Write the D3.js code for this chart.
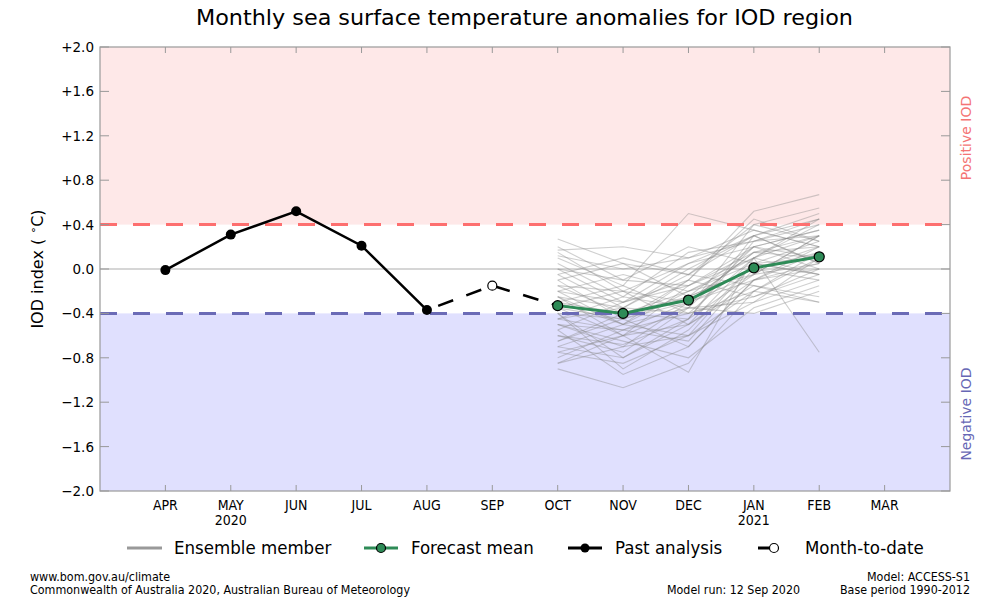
<!DOCTYPE html>
<html>
<head>
<meta charset="utf-8">
<script src="https://cdn.jsdelivr.net/npm/d3@7"></script>
<style>
  body { margin: 0; background: #fff; }
  svg { font-family: "DejaVu Sans", sans-serif; }
  .cond { font-stretch: condensed; }
</style>
</head>
<body>
<svg id="chart" width="1000" height="600"></svg>
<script>
// ---------- DATA ----------
const months = ["APR","MAY","JUN","JUL","AUG","SEP","OCT","NOV","DEC","JAN","FEB","MAR"];
const yearLabels = [{month: "MAY", year: "2020"}, {month: "JAN", year: "2021"}];
const yTicks = [-2.0, -1.6, -1.2, -0.8, -0.4, 0.0, 0.4, 0.8, 1.2, 1.6, 2.0];
const pastMonths = ["APR","MAY","JUN","JUL","AUG"];
const pastValues = [-0.01, 0.31, 0.52, 0.21, -0.37];
const mtdMonth = "SEP";
const mtdValue = -0.15;
const forecastMonths = ["OCT","NOV","DEC","JAN","FEB"];
const forecastMean = [-0.33, -0.40, -0.28, 0.01, 0.11];
const posThreshold = 0.4;
const negThreshold = -0.4;
const ensembleMembers = [
  [0.27, 0.05, -0.05, 0.30, 0.45],
  [0.17, 0.20, 0.10, 0.25, 0.30],
  [-0.90, -1.07, -0.85, -0.20, 0.10],
  [-0.85, -0.60, -0.93, 0.10, 0.30],
  [-0.70, -0.80, -0.50, -0.10, 0.20],
  [-0.60, -0.68, -0.45, 0.30, 0.50],
  [0.00, -0.30, -0.10, 0.52, 0.67],
  [-0.20, -0.50, -0.20, 0.10, -0.75],
  [-0.45, -0.55, -0.30, -0.05, 0.05],
  [-0.30, -0.40, -0.25, 0.00, 0.15],
  [0.10, -0.15, 0.50, 0.35, 0.20],
  [-0.50, -0.70, -0.60, -0.30, -0.10],
  [-0.15, -0.20, 0.05, 0.20, 0.35],
  [-0.65, -0.45, -0.70, -0.10, 0.00],
  [-0.40, -0.90, -0.55, 0.05, 0.25],
  [-0.05, 0.10, -0.05, 0.40, 0.55],
  [-0.25, -0.35, -0.40, -0.20, -0.30],
  [-0.55, -0.30, -0.15, 0.15, 0.10],
  [-0.35, -0.60, -0.35, -0.40, -0.20],
  [0.05, -0.25, 0.15, 0.25, 0.40],
  [-0.75, -0.85, -0.60, 0.05, -0.05],
  [-0.10, -0.45, -0.30, 0.15, 0.20],
  [-0.45, -0.35, 0.00, 0.30, 0.05],
  [-0.80, -0.55, -0.40, -0.25, 0.00],
  [-0.20, -0.05, -0.20, -0.05, 0.30],
  [-0.50, -0.65, -0.80, -0.35, -0.15],
  [0.20, -0.10, -0.15, 0.10, -0.05],
  [-0.30, -0.50, -0.10, 0.45, 0.25],
  [-0.60, -0.75, -0.35, 0.20, 0.35],
  [-0.35, -0.20, -0.50, -0.15, -0.30],
  [0.00, -0.10, 0.20, 0.05, 0.10],
  [-0.40, -0.45, -0.25, 0.00, -0.10],
  [-0.70, -0.50, -0.60, -0.20, 0.15],
  [-0.15, -0.40, -0.45, 0.25, 0.45],
  [-0.55, -0.95, -0.70, -0.10, 0.05],
  [0.12, 0.00, 0.10, 0.35, 0.20],
  [-0.25, -0.60, -0.15, 0.20, 0.00],
  [-0.45, -0.25, -0.35, -0.30, 0.10],
  [-0.85, -0.70, -0.30, 0.15, 0.30],
  [-0.05, -0.35, -0.05, -0.15, -0.25],
  [-0.30, -0.15, -0.40, 0.10, 0.40],
  [-0.65, -0.40, -0.20, 0.05, -0.05],
  [0.15, -0.20, -0.30, -0.10, 0.15],
  [-0.50, -0.55, -0.65, 0.00, 0.20],
  [-0.20, -0.30, 0.05, 0.30, 0.05],
  [-0.40, -0.80, -0.45, -0.05, 0.30],
  [-0.10, 0.05, -0.25, 0.20, 0.10],
  [-0.75, -0.60, -0.50, 0.10, 0.45],
  [-0.35, -0.45, -0.10, -0.25, -0.05],
  [-0.25, -0.50, -0.35, 0.40, 0.25]
];

// ---------- LAYOUT ----------
const svg = d3.select("#chart");
const L = 100, R = 950, T = 47, B = 491;
const x = d3.scaleLinear().domain([-1, months.length]).range([L, R]);
const xm = m => x(months.indexOf(m));
const y = d3.scaleLinear().domain([-2, 2]).range([B, T]);

// Title
svg.append("text").attr("x", 524.5).attr("y", 25).attr("text-anchor", "middle")
  .attr("font-size", 22).attr("class", "cond")
  .attr("textLength", 657).attr("lengthAdjust", "spacingAndGlyphs")
  .text("Monthly sea surface temperature anomalies for IOD region");

// Background bands
svg.append("rect").attr("x", L).attr("y", y(2)).attr("width", R - L).attr("height", y(posThreshold) - y(2)).attr("fill", "#fee8e8");
svg.append("rect").attr("x", L).attr("y", y(negThreshold)).attr("width", R - L).attr("height", y(-2) - y(negThreshold)).attr("fill", "#e0e0fe");

// Zero line
svg.append("line").attr("x1", L).attr("x2", R).attr("y1", y(0)).attr("y2", y(0)).attr("stroke", "#c8c8c8").attr("stroke-width", 1.5);

// Ensemble
const ensLine = d3.line().x((d, i) => xm(forecastMonths[i])).y(d => y(d));
svg.append("g").selectAll("path").data(ensembleMembers).join("path")
  .attr("d", ensLine).attr("fill", "none").attr("stroke", "#888").attr("stroke-opacity", 0.4).attr("stroke-width", 1.1);

// Threshold lines
svg.append("line").attr("x1", L).attr("x2", R).attr("y1", y(posThreshold)).attr("y2", y(posThreshold))
  .attr("stroke", "#fd6f6f").attr("stroke-width", 3).attr("stroke-dasharray", "17,16");
svg.append("line").attr("x1", L).attr("x2", R).attr("y1", y(negThreshold)).attr("y2", y(negThreshold))
  .attr("stroke", "#6b6bb6").attr("stroke-width", 3).attr("stroke-dasharray", "17,16");

// Month-to-date dashed line
const mtdPts = [[xm("AUG"), y(pastValues[pastValues.length - 1])], [xm(mtdMonth), y(mtdValue)], [xm(forecastMonths[0]), y(forecastMean[0])]];
svg.append("path").attr("d", d3.line()(mtdPts)).attr("fill", "none").attr("stroke", "#000")
  .attr("stroke-width", 2.5).attr("stroke-dasharray", "16,14").attr("stroke-dashoffset", -12);

// Past analysis
const pastLine = d3.line().x((d, i) => xm(pastMonths[i])).y(d => y(d));
svg.append("path").attr("d", pastLine(pastValues)).attr("fill", "none").attr("stroke", "#000").attr("stroke-width", 2.5);
svg.append("g").selectAll("circle").data(pastValues).join("circle")
  .attr("cx", (d, i) => xm(pastMonths[i])).attr("cy", d => y(d)).attr("r", 5).attr("fill", "#000");

// MTD marker
svg.append("circle").attr("cx", xm(mtdMonth)).attr("cy", y(mtdValue)).attr("r", 4.5)
  .attr("fill", "#fff").attr("stroke", "#000").attr("stroke-width", 1.2);

// Forecast mean
const fcLine = d3.line().x((d, i) => xm(forecastMonths[i])).y(d => y(d));
svg.append("path").attr("d", fcLine(forecastMean)).attr("fill", "none").attr("stroke", "#2e8b57").attr("stroke-width", 3);
svg.append("g").selectAll("circle").data(forecastMean).join("circle")
  .attr("cx", (d, i) => xm(forecastMonths[i])).attr("cy", d => y(d)).attr("r", 5)
  .attr("fill", "#2e8b57").attr("stroke", "#000").attr("stroke-width", 1.2);

// Frame
svg.append("rect").attr("x", L).attr("y", T).attr("width", R - L).attr("height", B - T)
  .attr("fill", "none").attr("stroke", "#999").attr("stroke-width", 1.2);

// Y ticks (inward, both sides)
const fmt = v => v > 0 ? "+" + v.toFixed(1) : (v < 0 ? "\u2212" + Math.abs(v).toFixed(1) : "0.0");
const yt = svg.append("g");
yTicks.forEach(v => {
  yt.append("line").attr("x1", L).attr("x2", L + 9).attr("y1", y(v)).attr("y2", y(v)).attr("stroke", "#999");
  yt.append("line").attr("x1", R - 9).attr("x2", R).attr("y1", y(v)).attr("y2", y(v)).attr("stroke", "#999");
  yt.append("text").attr("x", 94).attr("y", y(v) + 5).attr("text-anchor", "end").attr("font-size", 13.5).text(fmt(v));
});

// X ticks
const xt = svg.append("g");
months.forEach(m => {
  xt.append("line").attr("x1", xm(m)).attr("x2", xm(m)).attr("y1", B).attr("y2", B - 6).attr("stroke", "#999");
  xt.append("line").attr("x1", xm(m)).attr("x2", xm(m)).attr("y1", T).attr("y2", T + 6).attr("stroke", "#999");
  xt.append("text").attr("x", xm(m)).attr("y", 510).attr("text-anchor", "middle").attr("font-size", 14).attr("class", "cond").text(m);
});
yearLabels.forEach(d => {
  xt.append("text").attr("x", xm(d.month)).attr("y", 525).attr("text-anchor", "middle").attr("font-size", 14).attr("class", "cond").text(d.year);
});

// Y label
svg.append("text").attr("transform", "translate(43,269) rotate(-90)").attr("text-anchor", "middle").attr("font-size", 16)
  .html('IOD index ( <tspan dy="-6" font-size="11">\u2218</tspan><tspan dy="6">C)</tspan>');

// Side labels
svg.append("text").attr("transform", "translate(971,138) rotate(-90)").attr("text-anchor", "middle").attr("font-size", 14)
  .attr("fill", "#f47474").text("Positive IOD");
svg.append("text").attr("transform", "translate(971,414) rotate(-90)").attr("text-anchor", "middle").attr("font-size", 14)
  .attr("fill", "#6767b5").text("Negative IOD");

// Legend
const lg = svg.append("g").attr("class", "cond").attr("font-size", 18.5);
const ly = 548;
lg.append("line").attr("x1", 127).attr("x2", 162).attr("y1", ly).attr("y2", ly).attr("stroke", "#999").attr("stroke-width", 3);
lg.append("text").attr("x", 174).attr("y", ly + 6).text("Ensemble member");
lg.append("line").attr("x1", 364).attr("x2", 398).attr("y1", ly).attr("y2", ly).attr("stroke", "#2e8b57").attr("stroke-width", 3);
lg.append("circle").attr("cx", 381).attr("cy", ly).attr("r", 4.5).attr("fill", "#2e8b57").attr("stroke", "#000").attr("stroke-width", 1.2);
lg.append("text").attr("x", 411).attr("y", ly + 6).text("Forecast mean");
lg.append("line").attr("x1", 568).attr("x2", 602).attr("y1", ly).attr("y2", ly).attr("stroke", "#000").attr("stroke-width", 3);
lg.append("circle").attr("cx", 585).attr("cy", ly).attr("r", 4.5).attr("fill", "#000");
lg.append("text").attr("x", 615).attr("y", ly + 6).text("Past analysis");
lg.append("line").attr("x1", 758).attr("x2", 770).attr("y1", ly).attr("y2", ly).attr("stroke", "#000").attr("stroke-width", 3);
lg.append("circle").attr("cx", 774).attr("cy", ly).attr("r", 4.5).attr("fill", "#fff").attr("stroke", "#000").attr("stroke-width", 1.2);
lg.append("text").attr("x", 805).attr("y", ly + 6).text("Month-to-date");

// Footer
const ft = svg.append("g").attr("class", "cond").attr("font-size", 11.6);
const fit = (sel, len) => sel.attr("textLength", len).attr("lengthAdjust", "spacingAndGlyphs");
fit(ft.append("text").attr("x", 30).attr("y", 581), 140).text("www.bom.gov.au/climate");
fit(ft.append("text").attr("x", 30).attr("y", 594), 380).text("Commonwealth of Australia 2020, Australian Bureau of Meteorology");
fit(ft.append("text").attr("x", 800).attr("y", 594).attr("text-anchor", "end"), 133).text("Model run: 12 Sep 2020");
fit(ft.append("text").attr("x", 970).attr("y", 581).attr("text-anchor", "end"), 103).text("Model: ACCESS-S1");
fit(ft.append("text").attr("x", 970).attr("y", 594).attr("text-anchor", "end"), 130).text("Base period 1990-2012");
</script>
</body>
</html>
